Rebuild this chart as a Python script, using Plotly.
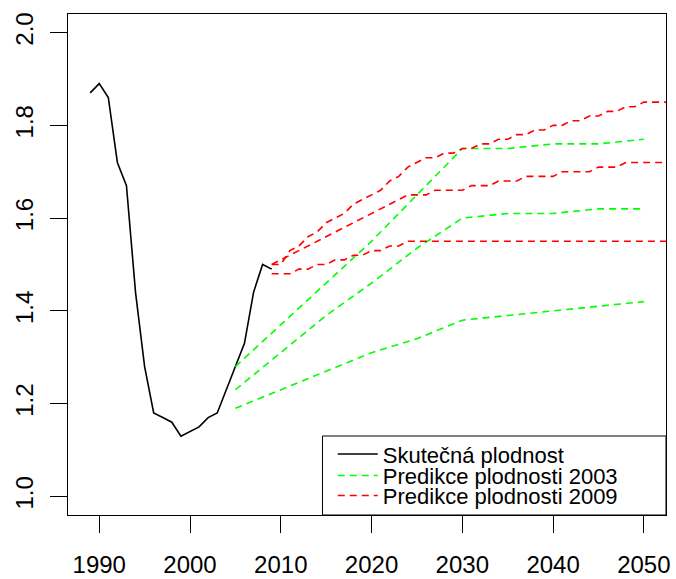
import plotly.graph_objects as go

# ---- data ----
years_actual = list(range(1989, 2010))
tfr_actual = [1.87, 1.89, 1.86, 1.72, 1.67, 1.44, 1.28, 1.18, 1.17, 1.16, 1.13,
              1.14, 1.15, 1.17, 1.18, 1.23, 1.28, 1.33, 1.44, 1.50, 1.49]

years_2003 = [2005, 2010, 2015, 2020, 2025, 2030, 2035, 2040, 2045, 2050]
pred2003_high = [1.28, 1.37, 1.46, 1.55, 1.65, 1.75, 1.75, 1.76, 1.76, 1.77]
pred2003_mid = [1.23, 1.31, 1.39, 1.46, 1.535, 1.60, 1.61, 1.61, 1.62, 1.62]
pred2003_low = [1.19, 1.23, 1.27, 1.31, 1.34, 1.38, 1.39, 1.40, 1.41, 1.42]

years_2009 = list(range(2009, 2054))
pred2009_high = [1.50, 1.50, 1.53, 1.54, 1.56, 1.57, 1.59, 1.60, 1.61, 1.63,
                 1.64, 1.65, 1.66, 1.68, 1.69, 1.71, 1.72, 1.73, 1.73, 1.74,
                 1.74, 1.75, 1.75, 1.76, 1.76, 1.77, 1.77, 1.78, 1.78, 1.79,
                 1.79, 1.80, 1.80, 1.81, 1.81, 1.82, 1.82, 1.83, 1.83, 1.84,
                 1.84, 1.85, 1.85, 1.85, 1.85]
pred2009_mid = [1.50, 1.51, 1.52, 1.53, 1.54, 1.55, 1.56, 1.57, 1.58, 1.59,
                1.60, 1.61, 1.62, 1.63, 1.64, 1.65, 1.65, 1.65, 1.66, 1.66,
                1.66, 1.66, 1.67, 1.67, 1.67, 1.68, 1.68, 1.68, 1.69, 1.69,
                1.69, 1.69, 1.70, 1.70, 1.70, 1.70, 1.71, 1.71, 1.71, 1.72,
                1.72, 1.72, 1.72, 1.72, 1.72]
pred2009_low = [1.48, 1.48, 1.48, 1.49, 1.49, 1.50, 1.50, 1.51, 1.51, 1.52,
                1.52, 1.53, 1.53, 1.54, 1.54, 1.55, 1.55, 1.55, 1.55, 1.55,
                1.55, 1.55, 1.55, 1.55, 1.55, 1.55, 1.55, 1.55, 1.55, 1.55,
                1.55, 1.55, 1.55, 1.55, 1.55, 1.55, 1.55, 1.55, 1.55, 1.55,
                1.55, 1.55, 1.55, 1.55, 1.55]

x_ticks = [1990, 2000, 2010, 2020, 2030, 2040, 2050]
y_ticks = [1.0, 1.2, 1.4, 1.6, 1.8, 2.0]
y_tick_labels = ["1.0", "1.2", "1.4", "1.6", "1.8", "2.0"]

label_actual = "Skutečná plodnost"
label_2003 = "Predikce plodnosti 2003"
label_2009 = "Predikce plodnosti 2009"

# ---- figure ----
FONT = "Liberation Sans, Arial, Helvetica, sans-serif"
GREEN = "#00FF00"
RED = "#FF0000"
DASH = "7px,5px"
LW = 1.6

fig = go.Figure()

fig.add_trace(go.Scatter(x=years_actual, y=tfr_actual, mode="lines",
                         line=dict(color="black", width=LW),
                         name=label_actual, legend="legend", showlegend=True))

for i, ys in enumerate([pred2003_high, pred2003_mid, pred2003_low]):
    fig.add_trace(go.Scatter(x=years_2003, y=ys, mode="lines",
                             line=dict(color=GREEN, width=LW, dash=DASH),
                             name=label_2003, legend="legend2",
                             legendgroup="g2003", showlegend=(i == 0)))

for i, ys in enumerate([pred2009_high, pred2009_mid, pred2009_low]):
    fig.add_trace(go.Scatter(x=years_2009, y=ys, mode="lines",
                             line=dict(color=RED, width=LW, dash=DASH),
                             name=label_2009, legend="legend3",
                             legendgroup="g2009", showlegend=(i == 0)))

# plot area in pixels: x 68 -> 666.5, y 14 -> 515
W, H = 676, 579
L, R, T, B = 68, 9.5, 14, 64
pw = W - L - R
ph = H - T - B


def px_x(px):
    return (px - L) / pw


def px_y(py):
    return (H - B - py) / ph


leg_common = dict(bgcolor="rgba(0,0,0,0)", borderwidth=0,
                  font=dict(family=FONT, size=22, color="black"),
                  xanchor="left", yanchor="top", itemwidth=40,
                  itemclick=False, itemdoubleclick=False, visible=True)
lx = px_x(333)
fig.update_layout(
    showlegend=True,
    legend=dict(x=lx, y=px_y(454 - 20.8), **leg_common),
    legend2=dict(x=lx, y=px_y(475.5 - 20.8), **leg_common),
    legend3=dict(x=lx, y=px_y(495.5 - 20.8), **leg_common),
)

# legend frame (R-style legend box)
fig.add_shape(type="rect", xref="paper", yref="paper",
              x0=px_x(322.7), x1=1.0, y0=0.0, y1=px_y(436),
              line=dict(color="black", width=1), fillcolor="white",
              layer="above")

fig.update_layout(
    width=W, height=H,
    margin=dict(l=L, r=R, t=T, b=B, pad=0, autoexpand=False),
    paper_bgcolor="white", plot_bgcolor="white",
    font=dict(family=FONT, size=24, color="black"),
    xaxis=dict(range=[1986.56, 2052.44], tickmode="array", tickvals=x_ticks,
               ticks="outside", ticklen=17, tickwidth=1, tickcolor="black",
               showline=True, mirror=True, linecolor="black", linewidth=1,
               showgrid=False, zeroline=False, automargin=False,
               tickfont=dict(family=FONT, size=24, color="black"),
               ticklabelstandoff=11),
    yaxis=dict(range=[0.96, 2.04], tickmode="array", tickvals=y_ticks,
               ticktext=y_tick_labels, tickangle=-90,
               ticks="outside", ticklen=17, tickwidth=1, tickcolor="black",
               showline=True, mirror=True, linecolor="black", linewidth=1,
               showgrid=False, zeroline=False, automargin=False,
               tickfont=dict(family=FONT, size=24, color="black"),
               ticklabelstandoff=7),
)

fig.write_html("out.html")
